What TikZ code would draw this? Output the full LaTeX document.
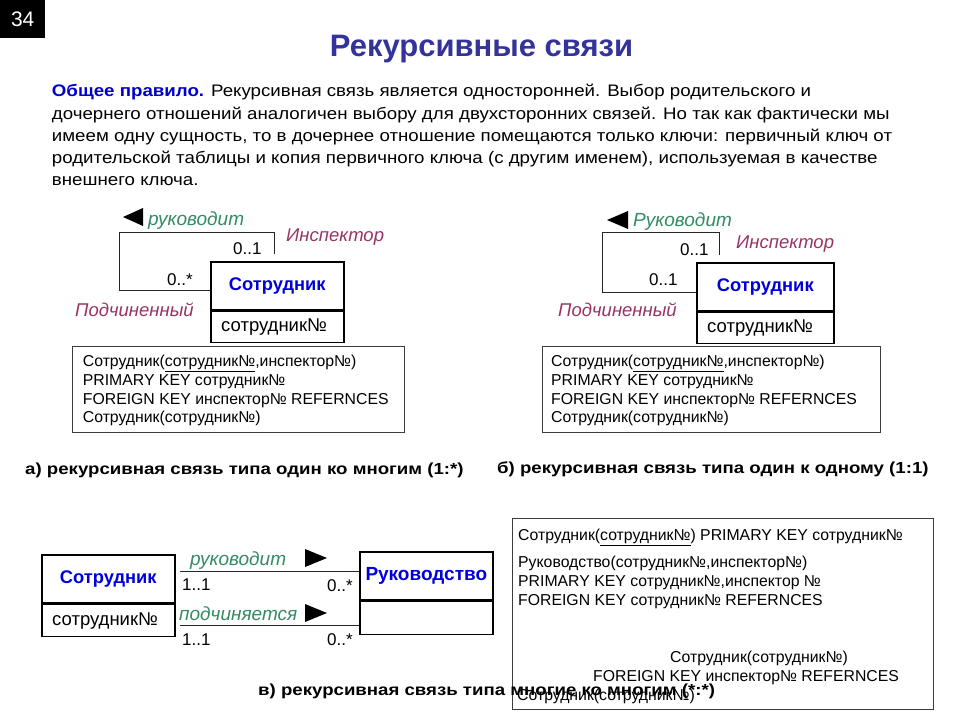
\documentclass[tikz,border=0pt]{standalone}
\usepackage{fontspec}
\setmainfont{Liberation Sans}
\newfontfamily\parafont[FakeStretch=1.12]{Liberation Sans}
\newfontfamily\capfont[FakeStretch=1.165]{Liberation Sans}
\usetikzlibrary{calc}
\newcommand{\fsz}[1]{\fontsize{#1}{#1}\selectfont}
\definecolor{titleblue}{RGB}{51,51,153}
\definecolor{ruleblue}{RGB}{0,0,204}
\definecolor{entblue}{RGB}{0,0,220}
\definecolor{relgreen}{RGB}{51,140,100}
\definecolor{rolered}{RGB}{153,51,102}
\definecolor{boxgray}{RGB}{60,60,60}
\tikzset{
  para/.style={anchor=base west, inner sep=0pt, font=\parafont\fsz{16.7}},
  entbox/.style={draw, line width=1.6pt, anchor=north west, inner sep=0pt},
  entname/.style={font=\fsz{18.3}\bfseries, text=entblue},
  keytxt/.style={anchor=base west, inner sep=0pt, font=\fsz{18.5}},
  mult/.style={anchor=base west, inner sep=0pt, font=\fsz{17}},
  relname/.style={anchor=base west, inner sep=0pt, font=\fsz{19}\itshape, text=relgreen},
  rolename/.style={anchor=base west, inner sep=0pt, font=\fsz{18.5}\itshape, text=rolered},
  conn/.style={draw, line width=1pt, black!85},
  tbox/.style={draw=boxgray, line width=1.1pt, anchor=north west, inner sep=0pt},
  tline/.style={anchor=base west, inner sep=0pt, font=\fsz{15.8}},
  caption/.style={anchor=base west, inner sep=0pt, font=\capfont\fsz{16}\bfseries},
  marker/.style={fill=black}
}
\begin{document}
\begin{tikzpicture}[x=1pt,y=-1pt]
\useasboundingbox (0,0) rectangle (960,720);
\fill[white] (0,0) rectangle (960,720);

% slide number and title
\node[fill=black, text=white, anchor=north west, minimum width=45pt, minimum height=38pt, inner sep=0pt, font=\fsz{21}] (num) at (0,0) {34};
\node[anchor=base, inner sep=0pt, font=\fsz{31}\bfseries, text=titleblue] (title) at (481.5,56.7) {Рекурсивные связи};

% paragraph
\node[para] (p1) at (51.7,96.7) {{\color{ruleblue}\bfseries Общее правило.} Рекурсивная связь является односторонней. Выбор родительского и};
\node[para] (p2) at (51.7,119) {дочернего отношений аналогичен выбору для двухсторонних связей. Но так как фактически мы};
\node[para] (p3) at (51.7,141.3) {имеем одну сущность, то в дочернее отношение помещаются только ключи: первичный ключ от};
\node[para] (p4) at (51.7,163.6) {родительской таблицы и копия первичного ключа (с другим именем), используемая в качестве};
\node[para] (p5) at (51.7,185.5) {внешнего ключа.};

% ---------- a) ----------
\node[entbox, minimum width=133pt, minimum height=48pt, entname] (aE) at (210,261) {Сотрудник};
\node[entbox, minimum width=133pt, minimum height=31pt] (aK) at (aE.south west) {};
\node[keytxt] (aKt) at (221,331.7) {сотрудник№};
\coordinate (aEnd) at (274,254);
\draw[conn] (aE.west |- 0,290) -- (119,290) -- (119,232) -- (274,232) -- (aEnd);
\fill[marker] (123,217) -- (143,208) -- (143,226) -- cycle;
\node[relname] (aRel) at (148,225) {руководит};
\node[mult] (aM1) at (233,254) {0..1};
\node[mult] (aM2) at (167,285) {0..*};
\node[rolename] (aR1) at (286,241) {Инспектор};
\node[rolename] (aR2) at (75,316) {Подчиненный};
\node[tbox, minimum width=332pt, minimum height=86pt] (aT) at (72,346) {};
\node[tline] (aT1) at (82.7,366.7) {Сотрудник(\underline{сотрудник№},инспектор№)};
\node[tline] (aT2) at (82.7,385.7) {PRIMARY KEY сотрудник№};
\node[tline] (aT3) at (82.7,404.3) {FOREIGN KEY инспектор№ REFERNCES};
\node[tline] (aT4) at (82.7,422.7) {Сотрудник(сотрудник№)};
\node[caption] (aCap) at (25,474) {а) рекурсивная связь типа один ко многим (1:*)};

% ---------- б) ----------
\node[entbox, minimum width=137pt, minimum height=48pt, entname] (bE) at (696,262) {Сотрудник};
\node[entbox, minimum width=137pt, minimum height=31pt] (bK) at (bE.south west) {};
\node[keytxt] (bKt) at (707,332.5) {сотрудник№};
\coordinate (bEnd) at (719,255);
\draw[conn] (bE.west |- 0,292) -- (602,292) -- (602,232) -- (719,232) -- (bEnd);
\fill[marker] (607,220) -- (628,211) -- (628,229) -- cycle;
\node[relname] (bRel) at (633,226) {Руководит};
\node[mult] (bM1) at (680,255.5) {0..1};
\node[mult] (bM2) at (649,285.5) {0..1};
\node[rolename] (bR1) at (736,248.5) {Инспектор};
\node[rolename] (bR2) at (558,316.5) {Подчиненный};
\node[tbox, minimum width=338pt, minimum height=86pt] (bT) at (541.7,345.7) {};
\node[tline] (bT1) at (551,366.7) {Сотрудник(\underline{сотрудник№},инспектор№)};
\node[tline] (bT2) at (551,385.7) {PRIMARY KEY сотрудник№};
\node[tline] (bT3) at (551,404.3) {FOREIGN KEY инспектор№ REFERNCES};
\node[tline] (bT4) at (551,422.7) {Сотрудник(сотрудник№)};
\node[caption] (bCap) at (497,473) {б) рекурсивная связь типа один к одному (1:1)};

% ---------- в) ----------
\node[entbox, minimum width=133pt, minimum height=48pt, entname] (cE) at (41,554) {Сотрудник};
\node[entbox, minimum width=133pt, minimum height=32pt] (cK) at (cE.south west) {};
\node[keytxt] (cKt) at (52,625) {сотрудник№};
\node[entbox, minimum width=133pt, minimum height=48pt, entname, font=\fsz{19}\bfseries] (cR) at (359,551) {Руководство};
\node[entbox, minimum width=133pt, minimum height=33pt] (cRk) at (cR.south west) {};
\draw[conn] ($(cE.east |- 0,571)+(4,0)$) -- (cR.west |- 0,571);
\draw[conn] ($(cE.east |- 0,625)+(4,0)$) -- (cR.west |- 0,625);
\fill[marker] (327,558) -- (305,549) -- (305,567) -- cycle;
\fill[marker] (327,613) -- (305,604) -- (305,622) -- cycle;
\node[relname] (cRel1) at (190,565) {руководит};
\node[relname] (cRel2) at (179,620) {подчиняется};
\node[mult] (cM1) at (182,590) {1..1};
\node[mult] (cM2) at (327,591) {0..*};
\node[mult] (cM3) at (182,645) {1..1};
\node[mult] (cM4) at (327,645) {0..*};

\node[tbox, minimum width=421pt, minimum height=191pt] (cT) at (511.7,518) {};
\node[tline] (cT1) at (518,540.7) {Сотрудник(\underline{сотрудник№}) PRIMARY KEY сотрудник№};
\node[tline] (cT2) at (518,567) {Руководство(сотрудник№,инспектор№)};
\node[tline] (cT3) at (518,586.7) {PRIMARY KEY сотрудник№,инспектор №};
\node[tline] (cT4) at (518,605) {FOREIGN KEY сотрудник№ REFERNCES};
\node[tline] (cT5) at (670,662.7) {Сотрудник(сотрудник№)};
\node[tline] (cT6) at (593,681.7) {FOREIGN KEY инспектор№ REFERNCES};
\node[tline] (cT7) at (517,700) {Сотрудник(сотрудник№)};
\node[caption] (cCap) at (258,695) {в) рекурсивная связь типа многие ко многим (*:*)};
\end{tikzpicture}
\end{document}
